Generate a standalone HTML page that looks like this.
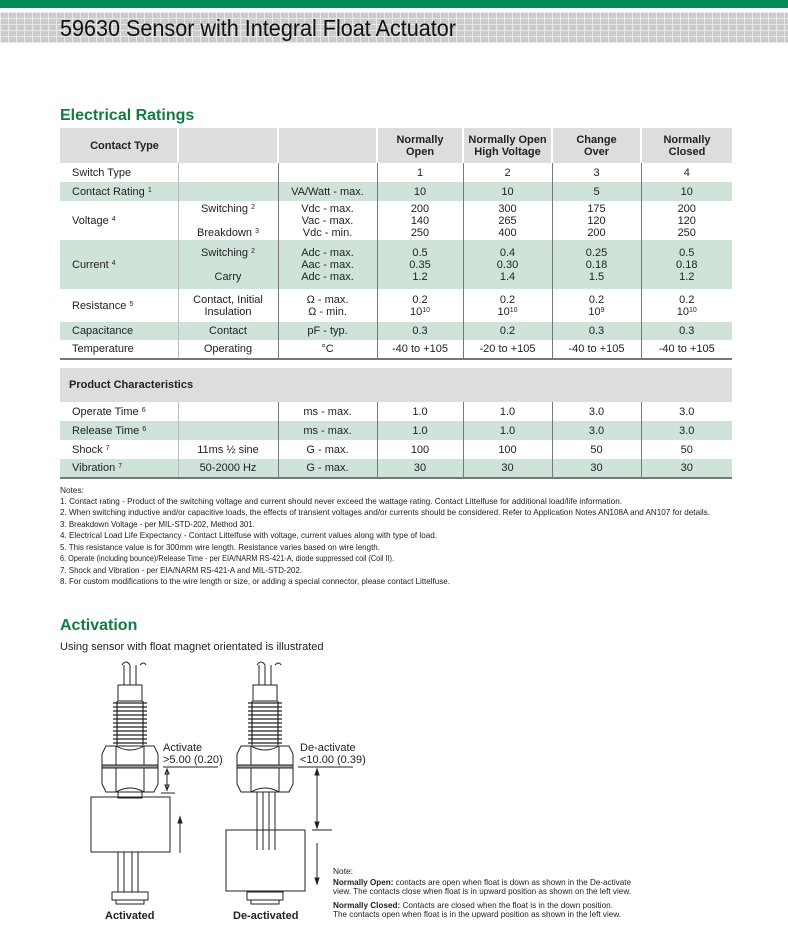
<!DOCTYPE html>
<html><head><meta charset="utf-8"><style>
body{margin:0;width:788px;height:934px;background:#fff;position:relative;font-family:"Liberation Sans",sans-serif;color:#222;overflow:hidden}
.abs{position:absolute}
table{position:absolute;left:60px;border-collapse:collapse;table-layout:fixed;font-size:11px}
td{padding:0;text-align:center;line-height:12px;vertical-align:middle}
td.l{text-align:left;padding-left:12px}
tr.g td{background:#cfe3d9}
tr.h td{background:#dcdddf;font-weight:bold;border-left:2px solid #fff}
tr.h td:first-child{border-left:none}
tbody tr:not(.h) td+td{border-left:1px solid #777}
tbody tr:not(.h) td:nth-child(2){border-left:1px solid #bbb}
.h2{color:#137a44;font-weight:bold;font-size:16px}
sup{font-size:7px;vertical-align:3px;line-height:0}
</style></head><body>
<svg class="abs" style="left:0;top:0" width="788" height="50">
<defs><pattern id="grid" width="8" height="6" patternUnits="userSpaceOnUse"><rect width="8" height="6" fill="#cbcbcb"/><path d="M0 0.5H8M0.5 0V6" stroke="#e8e8e8" stroke-width="1"/></pattern></defs>
<rect x="0" y="0" width="788" height="8" fill="#008a55"/>
<rect x="0" y="12" width="788" height="31" fill="url(#grid)"/>
<text x="60" y="36" font-family="Liberation Sans" font-size="23" fill="#111" textLength="396" lengthAdjust="spacingAndGlyphs">59630 Sensor with Integral Float Actuator</text>
</svg>
<div class="abs h2" style="left:60px;top:107px">Electrical Ratings</div>
<table style="top:128px;width:672px">
<colgroup><col style="width:118px"><col style="width:100px"><col style="width:99px"><col style="width:86px"><col style="width:89px"><col style="width:89px"><col style="width:91px"></colgroup>
<tbody>
<tr class="h" style="height:35px"><td style="text-align:center;padding-left:12px">Contact Type</td><td></td><td></td><td>Normally<br>Open</td><td>Normally Open<br>High Voltage</td><td>Change<br>Over</td><td>Normally<br>Closed</td></tr>
<tr style="height:19px"><td class="l">Switch Type</td><td></td><td></td><td>1</td><td>2</td><td>3</td><td>4</td></tr>
<tr class="g" style="height:19px"><td class="l">Contact Rating <sup>1</sup></td><td></td><td>VA/Watt - max.</td><td>10</td><td>10</td><td>5</td><td>10</td></tr>
<tr style="height:39px"><td class="l">Voltage <sup>4</sup></td><td>Switching <sup>2</sup><br><br>Breakdown <sup>3</sup></td><td>Vdc - max.<br>Vac - max.<br>Vdc - min.</td><td>200<br>140<br>250</td><td>300<br>265<br>400</td><td>175<br>120<br>200</td><td>200<br>120<br>250</td></tr>
<tr class="g" style="height:49px"><td class="l">Current <sup>4</sup></td><td>Switching <sup>2</sup><br><br>Carry</td><td>Adc - max.<br>Aac - max.<br>Adc - max.</td><td>0.5<br>0.35<br>1.2</td><td>0.4<br>0.30<br>1.4</td><td>0.25<br>0.18<br>1.5</td><td>0.5<br>0.18<br>1.2</td></tr>
<tr style="height:33px"><td class="l">Resistance <sup>5</sup></td><td>Contact, Initial<br>Insulation</td><td>Ω - max.<br>Ω - min.</td><td>0.2<br>10<sup>10</sup></td><td>0.2<br>10<sup>10</sup></td><td>0.2<br>10<sup>9</sup></td><td>0.2<br>10<sup>10</sup></td></tr>
<tr class="g" style="height:18px"><td class="l">Capacitance</td><td>Contact</td><td>pF - typ.</td><td>0.3</td><td>0.2</td><td>0.3</td><td>0.3</td></tr>
<tr style="height:19px;border-bottom:2px solid #777"><td class="l">Temperature</td><td>Operating</td><td>°C</td><td>-40 to +105</td><td>-20 to +105</td><td>-40 to +105</td><td>-40 to +105</td></tr>
</tbody></table>
<table style="top:368px;width:672px">
<colgroup><col style="width:118px"><col style="width:100px"><col style="width:99px"><col style="width:86px"><col style="width:89px"><col style="width:89px"><col style="width:91px"></colgroup>
<tbody>
<tr style="height:34px"><td colspan="7" style="background:#dcdddf;text-align:left;padding-left:9px;font-weight:bold">Product Characteristics</td></tr>
<tr style="height:19px"><td class="l">Operate Time <sup>6</sup></td><td></td><td>ms - max.</td><td>1.0</td><td>1.0</td><td>3.0</td><td>3.0</td></tr>
<tr class="g" style="height:19px"><td class="l">Release Time <sup>6</sup></td><td></td><td>ms - max.</td><td>1.0</td><td>1.0</td><td>3.0</td><td>3.0</td></tr>
<tr style="height:19px"><td class="l">Shock <sup>7</sup></td><td>11ms ½ sine</td><td>G - max.</td><td>100</td><td>100</td><td>50</td><td>50</td></tr>
<tr class="g" style="height:19px;border-bottom:2px solid #777"><td class="l">Vibration <sup>7</sup></td><td>50-2000 Hz</td><td>G - max.</td><td>30</td><td>30</td><td>30</td><td>30</td></tr>
</tbody></table>
<svg class="abs" style="left:0;top:480px" width="788" height="115" font-family="Liberation Sans" font-size="8.5" fill="#222">
<text x="60" y="13" textLength="24" lengthAdjust="spacingAndGlyphs">Notes:</text>
<text x="60" y="24" textLength="562" lengthAdjust="spacingAndGlyphs">1. Contact rating - Product of the switching voltage and current should never exceed the wattage rating. Contact Littelfuse for additional load/life information.</text>
<text x="60" y="35" textLength="650" lengthAdjust="spacingAndGlyphs">2. When switching inductive and/or capacitive loads, the effects of transient voltages and/or currents should be considered. Refer to Application Notes AN108A and AN107 for details.</text>
<text x="60" y="47" textLength="195" lengthAdjust="spacingAndGlyphs">3. Breakdown Voltage - per MIL-STD-202, Method 301.</text>
<text x="60" y="58" textLength="377" lengthAdjust="spacingAndGlyphs">4. Electrical Load Life Expectancy - Contact Littelfuse with voltage, current values along with type of load.</text>
<text x="60" y="70" textLength="320" lengthAdjust="spacingAndGlyphs">5. This resistance value is for 300mm wire length. Resistance varies based on wire length.</text>
<text x="60" y="81" textLength="334" lengthAdjust="spacingAndGlyphs">6. Operate (including bounce)/Release Time - per EIA/NARM RS-421-A, diode suppressed coil (Coil II).</text>
<text x="60" y="93" textLength="242" lengthAdjust="spacingAndGlyphs">7. Shock and Vibration - per EIA/NARM RS-421-A and MIL-STD-202.</text>
<text x="60" y="104" textLength="390" lengthAdjust="spacingAndGlyphs">8. For custom modifications to the wire length or size, or adding a special connector, please contact Littelfuse.</text>
</svg>
<div class="abs h2" style="left:60px;top:617px">Activation</div>
<div class="abs" style="left:60px;top:641px;font-size:11px">Using sensor with float magnet orientated is illustrated</div>
<svg class="abs" style="left:0;top:650px" width="788" height="284" font-family="Liberation Sans" fill="none" stroke="#222" stroke-width="1">
<g id="s1">
<path d="M122 15 q4-6 8 0 M130 15v20M124 15v20M136 15v20M140 15 q4-4 6 0"/>
<rect x="118" y="35" width="24" height="16"/>
<g stroke-width="1.2">
<path d="M113 53h34M113 57h34M113 61h34M113 65h34M113 69h34M113 73h34M113 77h34M113 81h34M113 85h34M113 89h34M113 93h34"/>
<path d="M117 51v44M143 51v44"/>
</g>
<path d="M106 96h48l4 8v30l-4 8h-48l-4-8v-30z M116 96v46M144 96v46M116 96q14 8 28 0M116 142q14-8 28 0"/>
<rect x="102" y="115" width="56" height="3" fill="#999"/>
</g>
<rect x="118" y="142" width="24" height="6"/>
<rect x="91" y="147" width="79" height="55"/>
<path d="M118 202v40M124 202v40M132 202v40M138 202v40"/>
<path d="M112 242h36v8h-36zM116 250h28v4h-28z"/>
<path d="M163 117h55M161 143h14M167 119v22M167 140l-2-5h4zM167 119l-2 5h4z" />
<path d="M180 203v-32M180 167l-2 6h4z" fill="#222"/>
<use href="#s1" x="135"/>
<path d="M257 142v58M263 142v58M269 142v58M275 142v58"/>
<rect x="226" y="180" width="79" height="61"/>
<path d="M247 242h36v8h-36zM251 250h28v4h-28z"/>
<path d="M298 117h55M312 180h20M317 119v59M317 119l-2 6h4zM317 178l-2-6h4z" fill="#222"/>
<path d="M317 193v38M317 234l-2-6h4z" fill="#222"/>
<g stroke="none" fill="#222" font-size="11">
<text x="163" y="101">Activate</text>
<text x="163" y="113">&gt;5.00 (0.20)</text>
<text x="300" y="101">De-activate</text>
<text x="300" y="113">&lt;10.00 (0.39)</text>
<text x="105" y="269" font-weight="bold">Activated</text>
<text x="233" y="269" font-weight="bold">De-activated</text>
<g font-size="8.5">
<text x="333" y="224" textLength="20" lengthAdjust="spacingAndGlyphs">Note:</text>
<text x="333" y="235" textLength="298" lengthAdjust="spacingAndGlyphs"><tspan font-weight="bold">Normally Open:</tspan> contacts are open when float is down as shown in the De-activate</text>
<text x="333" y="244" textLength="298" lengthAdjust="spacingAndGlyphs">view. The contacts close when float is in upward position as shown on the left view.</text>
<text x="333" y="258" textLength="280" lengthAdjust="spacingAndGlyphs"><tspan font-weight="bold">Normally Closed:</tspan>  Contacts are closed when the float is in the down position.</text>
<text x="333" y="267" textLength="288" lengthAdjust="spacingAndGlyphs">The contacts open when float is in the upward position as shown in the left view.</text>
</g></g>
</svg>
</body></html>
